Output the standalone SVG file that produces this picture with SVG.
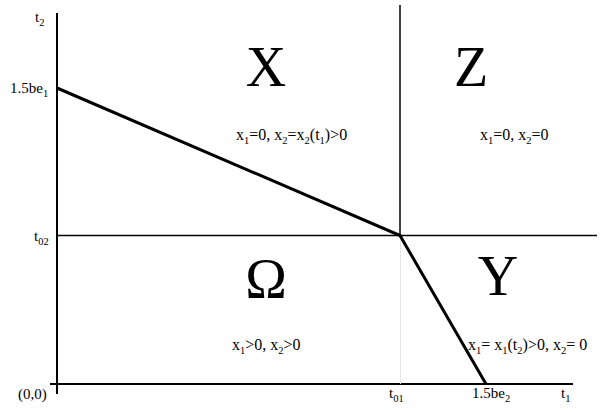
<svg xmlns="http://www.w3.org/2000/svg" width="609" height="412" viewBox="0 0 609 412">
<style>
text{font-family:'Liberation Serif','Tinos','Times New Roman','DejaVu Serif',serif;fill:#000}
.lbl{font-size:15px}
.reg{font-size:16px}
.big{font-size:56px}
.sub{font-size:10.5px}
.thin{stroke:#000;stroke-width:1.5;fill:none}
.thick{stroke:#000;stroke-width:3;fill:none}
</style>
<rect width="609" height="412" fill="#fff"/>
<g id="axes">
<line class="thick" x1="57" y1="13" x2="57" y2="394" style="stroke-width:2"/>
<line class="thin" x1="50" y1="384" x2="573" y2="384" style="stroke-width:2"/>
</g>
<g id="connectors">
<line class="thin" x1="400" y1="5" x2="400" y2="236"/>
<line class="thin" x1="57" y1="235.5" x2="597" y2="235.5"/>
<line x1="400.5" y1="236" x2="400.5" y2="384" stroke="#e6e6e6" stroke-width="1"/>
<polyline class="thick" points="57,88 400,235.5 486,384"/>
</g>
<g id="axis-labels">
<text class="lbl" x="35" y="22">t<tspan class="sub" dy="4">2</tspan></text>
<text class="lbl" x="10" y="93">1.5be<tspan class="sub" dy="4">1</tspan></text>
<text class="lbl" x="34" y="241">t<tspan class="sub" dy="4">02</tspan></text>
<text class="lbl" x="18" y="399">(0,0)</text>
<text class="lbl" x="389" y="398">t<tspan class="sub" dy="4">01</tspan></text>
<text class="lbl" x="472" y="398">1.5be<tspan class="sub" dy="4">2</tspan></text>
<text class="lbl" x="561" y="398">t<tspan class="sub" dy="4">1</tspan></text>
</g>
<g id="region-X">
<text class="big" x="266" y="86" text-anchor="middle">X</text>
<text class="reg" x="236" y="140">x<tspan class="sub" dy="4">1</tspan><tspan dy="-4">=0, x</tspan><tspan class="sub" dy="4">2</tspan><tspan dy="-4">=x</tspan><tspan class="sub" dy="4">2</tspan><tspan dy="-4">(t</tspan><tspan class="sub" dy="4">1</tspan><tspan dy="-4">)&gt;0</tspan></text>
</g>
<g id="region-Z">
<text class="big" x="471" y="86" text-anchor="middle">Z</text>
<text class="reg" x="480" y="140">x<tspan class="sub" dy="4">1</tspan><tspan dy="-4">=0, x</tspan><tspan class="sub" dy="4">2</tspan><tspan dy="-4">=0</tspan></text>
</g>
<g id="region-Omega">
<text class="big" x="266" y="298" text-anchor="middle">Ω</text>
<text class="reg" x="232" y="350">x<tspan class="sub" dy="4">1</tspan><tspan dy="-4">&gt;0, x</tspan><tspan class="sub" dy="4">2</tspan><tspan dy="-4">&gt;0</tspan></text>
</g>
<g id="region-Y">
<text class="big" x="498" y="295" text-anchor="middle">Y</text>
<text class="reg" x="468" y="350">x<tspan class="sub" dy="4">1</tspan><tspan dy="-4">= x</tspan><tspan class="sub" dy="4">1</tspan><tspan dy="-4">(t</tspan><tspan class="sub" dy="4">2</tspan><tspan dy="-4">)&gt;0, x</tspan><tspan class="sub" dy="4">2</tspan><tspan dy="-4">= 0</tspan></text>
</g>
</svg>
